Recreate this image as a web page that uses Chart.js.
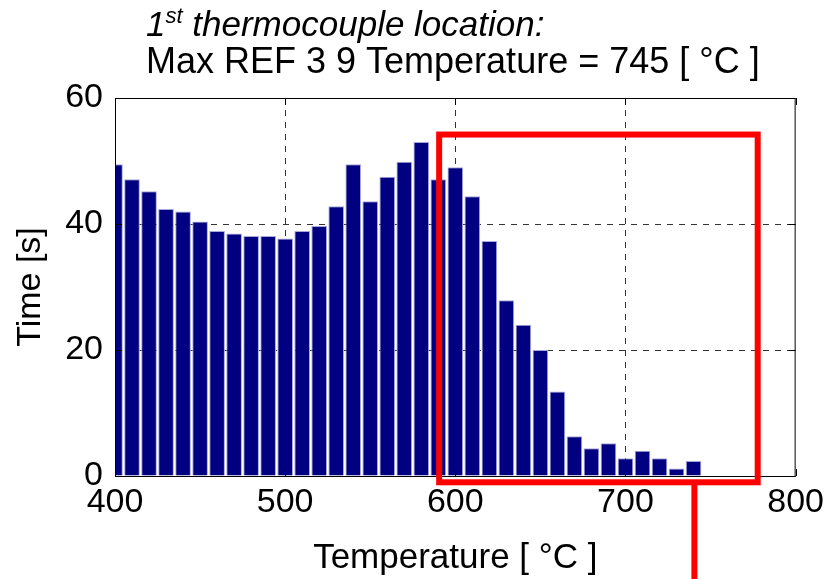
<!DOCTYPE html>
<html>
<head>
<meta charset="utf-8">
<script src="https://cdn.jsdelivr.net/npm/chart.js@4"></script>
<style>
  html, body { margin: 0; padding: 0; background: #fff; }
  #wrap { width: 830px; height: 579px; }
</style>
</head>
<body>
<div id="wrap"><canvas id="histChart" width="830" height="579"></canvas></div>
<script>
// bin centres [°C] and time spent in each bin [s]
const binCentres = [400, 410, 420, 430, 440, 450, 460, 470, 480, 490,
                    500, 510, 520, 530, 540, 550, 560, 570, 580, 590,
                    600, 610, 620, 630, 640, 650, 660, 670, 680, 690,
                    700, 710, 720, 730, 740, 750, 760, 770, 780, 790, 800];
const timeInBin = [49.5, 47.1, 45.2, 42.4, 42.0, 40.4, 38.9, 38.5, 38.1, 38.1,
                   37.7, 38.9, 39.7, 42.8, 49.5, 43.6, 47.5, 49.9, 53.0, 47.1,
                   49.0, 44.4, 37.3, 27.9, 24.0, 20.0, 13.4, 6.3, 4.4, 5.2,
                   2.8, 4.0, 2.8, 1.2, 2.4, 0, 0, 0, 0, 0, 0];
const xTicks = [400, 500, 600, 700, 800];
const yTicks = [0, 20, 40, 60];

// highlighted region (red box) and marker line, in data units
const boxRegion = { x0: 590.5, x1: 777.7, y0: -1.0, y1: 54.2 };
const markerTemp = 740.5;

const titleLine1 = ['1', 'st', ' thermocouple location:'];
const titleLine2 = 'Max REF 3 9 Temperature = 745 [ \u00B0C ]';

const FONT = '"Liberation Sans", Arial, sans-serif';

const ctx = document.getElementById('histChart').getContext('2d');

// axis box, inward ticks, title text and the red annotation
const decorPlugin = {
    id: 'decor',
    afterDraw(chart) {
        const c = chart.ctx;
        const a = chart.chartArea;
        const xs = chart.scales.x;
        const ys = chart.scales.y;
        c.save();

        // box
        c.strokeStyle = '#000';
        c.lineWidth = 1;
        c.strokeRect(a.left + 0.5, a.top + 0.5, a.right - a.left - 1, a.bottom - a.top);

        // inward tick marks
        const tl = 7;
        c.beginPath();
        xTicks.forEach(v => {
            const px = Math.round(xs.getPixelForValue(v)) + 0.5;
            c.moveTo(px, a.bottom); c.lineTo(px, a.bottom - tl);
            c.moveTo(px, a.top); c.lineTo(px, a.top + tl);
        });
        yTicks.forEach(v => {
            const py = Math.round(ys.getPixelForValue(v)) + 0.5;
            c.moveTo(a.left, py); c.lineTo(a.left + tl, py);
            c.moveTo(a.right, py); c.lineTo(a.right - tl, py);
        });
        c.stroke();

        // title
        c.fillStyle = '#000';
        c.textBaseline = 'alphabetic';
        c.textAlign = 'left';
        let tx = 146;
        c.font = 'italic 35px ' + FONT;
        c.fillText(titleLine1[0], tx, 36);
        tx += c.measureText(titleLine1[0]).width;
        c.font = 'italic 22px ' + FONT;
        c.fillText(titleLine1[1], tx, 23);
        tx += c.measureText(titleLine1[1]).width;
        c.font = 'italic 35px ' + FONT;
        c.fillText(titleLine1[2], tx, 36);
        c.font = '36px ' + FONT;
        c.fillText(titleLine2, 146, 73);

        // red box + marker line
        c.strokeStyle = '#ff0000';
        c.lineWidth = 6;
        const bx0 = xs.getPixelForValue(boxRegion.x0);
        const bx1 = xs.getPixelForValue(boxRegion.x1);
        const by0 = ys.getPixelForValue(boxRegion.y0);
        const by1 = ys.getPixelForValue(boxRegion.y1);
        c.strokeRect(bx0, by1, bx1 - bx0, by0 - by1);
        const mx = xs.getPixelForValue(markerTemp);
        c.beginPath();
        c.moveTo(mx, by0);
        c.lineTo(mx, chart.height);
        c.stroke();

        c.restore();
    }
};

const histChart = new Chart(ctx, {
    type: 'bar',
    data: {
        datasets: [{
            data: binCentres.map((t, i) => ({ x: t, y: timeInBin[i] })),
            backgroundColor: '#000080',
            borderColor: '#a8a8d8',
            borderWidth: 1,
            borderSkipped: 'bottom',
            barPercentage: 0.92,
            categoryPercentage: 1.0
        }]
    },
    options: {
        responsive: false,
        animation: false,
        layout: { padding: { top: 98, right: 33, left: 0, bottom: 0 } },
        plugins: {
            legend: { display: false },
            tooltip: { enabled: false }
        },
        scales: {
            x: {
                type: 'linear',
                min: 400,
                max: 800,
                offset: false,
                afterBuildTicks: axis => { axis.ticks = xTicks.map(v => ({ value: v })); },
                afterFit: axis => { axis.height = 103; },
                ticks: {
                    color: '#000',
                    font: { family: FONT, size: 34 },
                    padding: 6,
                    maxRotation: 0
                },
                grid: {
                    offset: false,
                    drawTicks: false,
                    color: c => (c.tick && (c.tick.value === 400 || c.tick.value === 800)) ? 'rgba(0,0,0,0)' : '#333',
                    lineWidth: 1
                },
                border: { display: false, dash: [6, 6] },
                title: {
                    display: true,
                    text: 'Temperature [ \u00B0C ]',
                    color: '#000',
                    font: { family: FONT, size: 35 },
                    padding: { top: 4, bottom: 0 }
                }
            },
            y: {
                min: 0,
                max: 60,
                afterBuildTicks: axis => { axis.ticks = yTicks.map(v => ({ value: v })); },
                afterFit: axis => { axis.width = 115; },
                ticks: {
                    color: '#000',
                    font: { family: FONT, size: 34 },
                    padding: 12
                },
                grid: {
                    drawTicks: false,
                    color: c => (c.tick && (c.tick.value === 0 || c.tick.value === 60)) ? 'rgba(0,0,0,0)' : '#333',
                    lineWidth: 1
                },
                border: { display: false, dash: [6, 6] },
                title: {
                    display: true,
                    text: 'Time [s]',
                    color: '#000',
                    font: { family: FONT, size: 34 },
                    padding: { top: 10, bottom: 0 }
                }
            }
        }
    },
    plugins: [decorPlugin]
});
</script>
</body>
</html>
